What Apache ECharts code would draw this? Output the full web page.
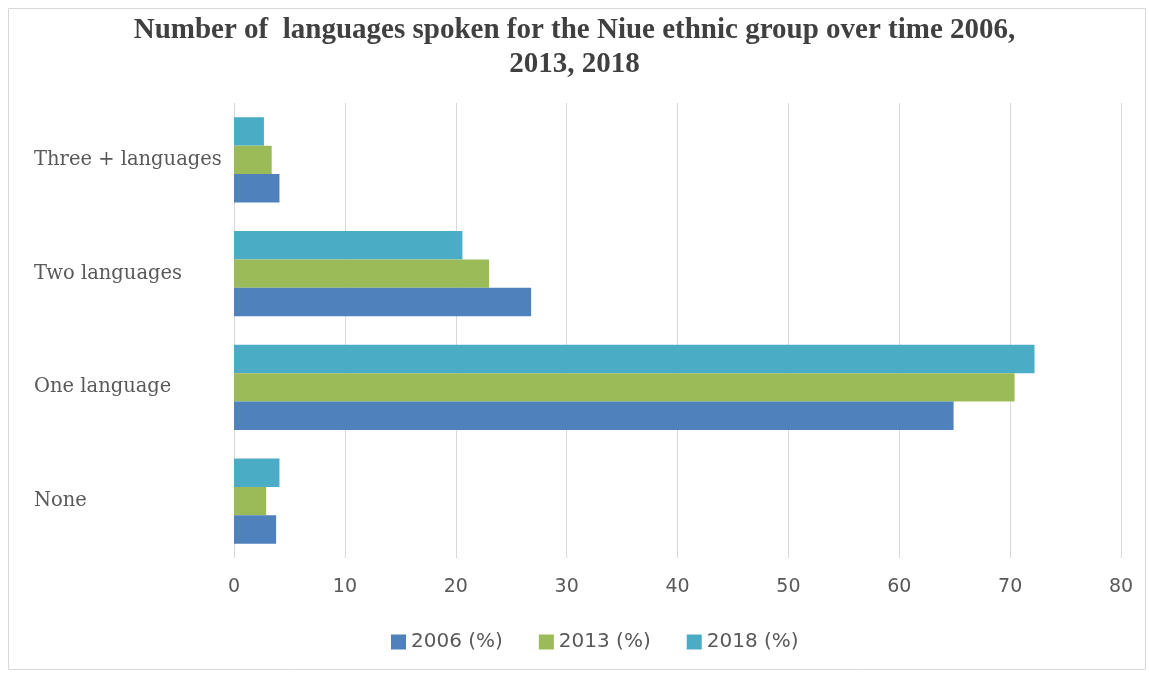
<!DOCTYPE html>
<html>
<head>
<meta charset="utf-8">
<script src="https://cdn.jsdelivr.net/npm/echarts@6/dist/echarts.min.js"></script>
<style>
  html, body { margin: 0; padding: 0; background: #ffffff; }
  #chart { width: 1149px; height: 675px; }
</style>
</head>
<body>
<div id="chart"></div>
<script>
// Language counts for the Niue ethnic group (percent of people)
const categories = ['None', 'One language', 'Two languages', 'Three + languages'];
const seriesNames = ['2006 (%)', '2013 (%)', '2018 (%)'];
const values2006 = [3.8, 64.9, 26.8, 4.1];
const values2013 = [2.9, 70.4, 23.0, 3.4];
const values2018 = [4.1, 72.2, 20.6, 2.7];
const xTicks = [0, 10, 20, 30, 40, 50, 60, 70, 80];

const colors = ['#4f81bd', '#9bbb59', '#4bacc6'];
const valueSets = [values2006, values2013, values2018];

const chart = echarts.init(document.getElementById('chart'));

// Latest year is drawn first so it sits at the top of each group
const series = seriesNames.map((name, i) => ({
  name: name,
  type: 'bar',
  data: valueSets[i],
  itemStyle: { color: colors[i] },
  barGap: '0%',
  barCategoryGap: '25%'
})).reverse();

chart.setOption({
  animation: false,
  backgroundColor: '#ffffff',
  title: {
    text: 'Number of  languages spoken for the Niue ethnic group over time 2006,\n2013, 2018',
    left: 'center',
    top: 9,
    textStyle: {
      fontFamily: 'Liberation Serif',
      fontWeight: 'bold',
      fontSize: 29,
      lineHeight: 34,
      color: '#404040'
    }
  },
  legend: {
    data: seriesNames,
    bottom: 18,
    left: 386,
    itemWidth: 15,
    itemHeight: 15,
    itemGap: 36,
    icon: 'rect',
    textStyle: { fontFamily: 'DejaVu Sans', fontSize: 20, color: '#595959' }
  },
  grid: { left: 234, right: 28, top: 103, bottom: 117 },
  xAxis: {
    type: 'value',
    min: xTicks[0],
    max: xTicks[xTicks.length - 1],
    interval: xTicks[1] - xTicks[0],
    axisLine: { show: false },
    axisTick: { show: false },
    splitLine: { lineStyle: { color: '#d9d9d9', width: 1 } },
    axisLabel: { fontFamily: 'DejaVu Sans', fontSize: 19, color: '#595959', margin: 20 }
  },
  yAxis: {
    type: 'category',
    data: categories,
    axisLine: { show: false },
    axisTick: { show: false },
    axisLabel: {
      fontFamily: 'DejaVu Serif',
      fontSize: 19.5,
      color: '#595959',
      align: 'left',
      margin: 200
    }
  },
  graphic: [{
    type: 'rect',
    shape: { x: 8.5, y: 8.5, width: 1137, height: 661 },
    style: { fill: 'none', stroke: '#d9d9d9', lineWidth: 1 },
    silent: true,
    z: -1
  }],
  series: series
});
</script>
</body>
</html>
